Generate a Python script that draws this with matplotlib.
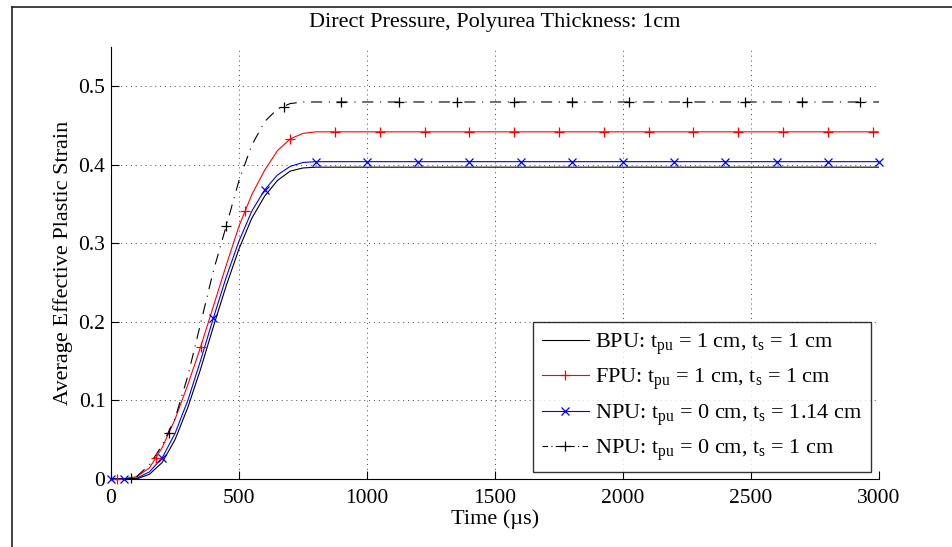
import matplotlib
matplotlib.use("Agg")
import matplotlib.pyplot as plt
from matplotlib.lines import Line2D
from matplotlib.ticker import FuncFormatter

plt.rcParams['font.family'] = ['Liberation Serif', 'DejaVu Serif']
plt.rcParams['mathtext.fontset'] = 'custom'
plt.rcParams['mathtext.rm'] = 'Liberation Serif'
plt.rcParams['mathtext.it'] = 'Liberation Serif:italic'

# ---- data ----
time_us = [0, 50, 100, 150, 200, 250, 300, 350, 400, 450, 500, 550, 600, 650, 700, 750, 800, 850, 3000]
bpu_strain = [0, 0, 0.000, 0.006, 0.021, 0.050, 0.091, 0.140, 0.194, 0.246, 0.293, 0.332, 0.360, 0.380, 0.392, 0.396, 0.397, 0.397, 0.397]
fpu_strain = [0, 0, 0.003, 0.014, 0.040, 0.076, 0.120, 0.168, 0.220, 0.272, 0.322, 0.362, 0.393, 0.418, 0.433, 0.440, 0.442, 0.442, 0.442]
npu114_strain = [0, 0, 0.001, 0.009, 0.027, 0.058, 0.100, 0.151, 0.205, 0.257, 0.303, 0.341, 0.368, 0.387, 0.398, 0.403, 0.404, 0.404, 0.404]
npu1_strain = [0, 0, 0.003, 0.018, 0.043, 0.077, 0.131, 0.198, 0.265, 0.322, 0.380, 0.425, 0.455, 0.471, 0.478, 0.480, 0.480, 0.480, 0.480]

fpu_mk_t = [24, 175, 350, 525, 700, 875, 1050, 1225, 1400, 1575, 1750, 1925, 2100, 2275, 2450, 2625, 2800, 2975]
fpu_mk_v = [0.0, 0.027, 0.168, 0.341, 0.433] + [0.442] * 13
npu114_mk_t = [0, 50, 200, 400, 600, 800, 1000, 1200, 1400, 1600, 1800, 2000, 2200, 2400, 2600, 2800, 3000]
npu114_mk_v = [0.0, 0.0, 0.027, 0.205, 0.368] + [0.404] * 12
npu1_mk_t = [78, 225, 450, 675, 900, 1125, 1350, 1575, 1800, 2025, 2250, 2475, 2700, 2925]
npu1_mk_v = [0.001, 0.058, 0.322, 0.474] + [0.480] * 10

labels = [r"BPU: t$_{\mathrm{pu}}$ = 1 cm, t$_{\mathrm{s}}$ = 1 cm",
          r"FPU: t$_{\mathrm{pu}}$ = 1 cm, t$_{\mathrm{s}}$ = 1 cm",
          r"NPU: t$_{\mathrm{pu}}$ = 0 cm, t$_{\mathrm{s}}$ = 1.14 cm",
          r"NPU: t$_{\mathrm{pu}}$ = 0 cm, t$_{\mathrm{s}}$ = 1 cm"]
x_ticks = [0, 500, 1000, 1500, 2000, 2500, 3000]
y_ticks = [0, 0.1, 0.2, 0.3, 0.4, 0.5]

# ---- figure ----
fig = plt.figure(figsize=(9.52, 5.47), dpi=100)
ax = fig.add_axes([111/952, 1-479/547, 768/952, 432/547])

lw = 0.8
dashdot = (0, (10, 6, 1, 6))
ms_plus, ms_x, mew = 7.5, 5.5, 0.9
ax.plot(time_us, bpu_strain, color='black', lw=lw, zorder=3)
ax.plot(time_us, fpu_strain, color='red', lw=lw, zorder=3)
ax.plot(time_us, npu114_strain, color='blue', lw=lw, zorder=3)
ax.plot(time_us, npu1_strain, color='black', lw=lw, linestyle=dashdot, zorder=3)
ax.plot(fpu_mk_t, fpu_mk_v, linestyle='none', marker='+', ms=ms_plus, mew=mew, color='red', zorder=4, clip_on=False)
ax.plot(npu114_mk_t, npu114_mk_v, linestyle='none', marker='x', ms=ms_x, mew=mew, color='blue', zorder=4, clip_on=False)
ax.plot(npu1_mk_t, npu1_mk_v, linestyle='none', marker='+', ms=ms_plus, mew=mew, color='black', zorder=4, clip_on=False)

ax.set_xlim(0, 3000)
ax.set_ylim(0, 0.55)
ax.set_xticks(x_ticks)
ax.set_yticks(y_ticks)
ax.yaxis.set_major_formatter(FuncFormatter(lambda v, p: "0" if v == 0 else f"{v:g}"))
ax.tick_params(direction='in', length=6, width=0.8, labelsize=15.5, pad=4)
ax.tick_params(axis='x', pad=7)
for s in ['top', 'right']:
    ax.spines[s].set_visible(False)
for s in ['left', 'bottom']:
    ax.spines[s].set_linewidth(0.8)
ax.grid(True, color='#444444', linestyle=(0, (1, 4)), linewidth=0.7)
ax.set_axisbelow(True)

ax.set_xlabel("Time (µs)", fontsize=16, labelpad=1)
ax.set_ylabel("Average Effective Plastic Strain", fontsize=16, labelpad=4)
fig.text(495/952, 1-22/547, "Direct Pressure, Polyurea Thickness: 1cm", ha='center', va='center', fontsize=16)

handles = [Line2D([], [], color='black', lw=lw),
           Line2D([], [], color='red', lw=lw, marker='+', ms=ms_plus, mew=mew),
           Line2D([], [], color='blue', lw=lw, marker='x', ms=ms_x, mew=mew),
           Line2D([], [], color='black', lw=lw, linestyle=(0, (5, 3, 1, 3)), marker='+', ms=ms_plus, mew=mew)]
leg = ax.legend(handles, labels, loc='lower right', bbox_to_anchor=(0.990, 0.016), borderaxespad=0,
                fontsize=16, frameon=True, fancybox=False, edgecolor='black', handlelength=2.1,
                handletextpad=0.3, borderpad=0.4, labelspacing=0.45)
leg.get_frame().set_linewidth(1.0)

# figure border (partial frame as in the reference)
fig.add_artist(Line2D([12/952, 1.0], [1-7/547, 1-7/547], transform=fig.transFigure, color='#222222', lw=1.2))
fig.add_artist(Line2D([12/952, 12/952], [0.0, 1-7/547], transform=fig.transFigure, color='#222222', lw=1.2))

fig.savefig("out.png", dpi=100)
